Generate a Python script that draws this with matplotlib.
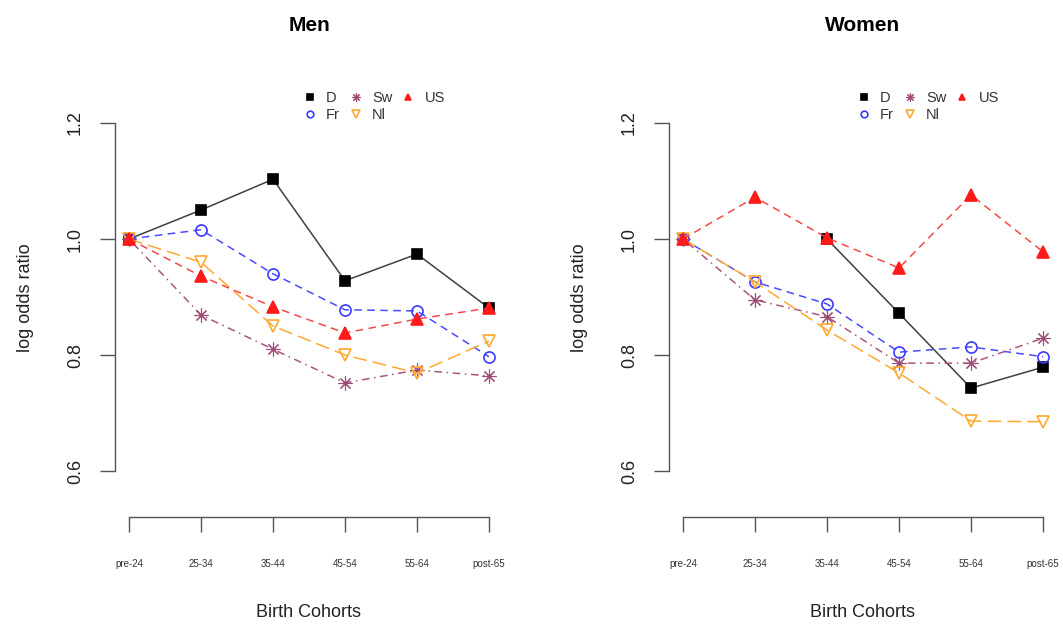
import numpy as np
import matplotlib.pyplot as plt
from matplotlib.lines import Line2D

plt.rcParams['font.family'] = ['Liberation Sans', 'DejaVu Sans']

# data
cohorts = ['pre-24', '25-34', '35-44', '45-54', '55-64', 'post-65']
countries = ['D', 'Fr', 'Sw', 'Nl', 'US']

men_D = [1.0, 1.050, 1.103, 0.928, 0.974, 0.881]
men_Fr = [1.0, 1.016, 0.940, 0.878, 0.876, 0.797]
men_Sw = [1.0, 0.869, 0.810, 0.752, 0.774, 0.764]
men_Nl = [1.0, 0.960, 0.850, 0.800, 0.769, 0.824]
men_US = [1.0, 0.936, 0.883, 0.838, 0.862, 0.881]

women_D = [np.nan, np.nan, 1.0, 0.872, 0.743, 0.779]
women_Fr = [1.0, 0.926, 0.888, 0.805, 0.814, 0.797]
women_Sw = [1.0, 0.895, 0.866, 0.786, 0.786, 0.829]
women_Nl = [1.0, 0.926, 0.843, 0.769, 0.686, 0.685]
women_US = [1.0, 1.072, 1.002, 0.950, 1.076, 0.978]

# style per country: line colour, marker colour, marker, filled, dashes
styles = {
    'D':  dict(lc='#404040', mc='black', m='s', fill=True, ls='-', ms=6.5, mew=1.2),
    'Fr': dict(lc='#4a4aff', mc='#3a3aff', m='o', fill=False, ls=(0, (5, 3.5)), ms=8, mew=1.2),
    'Sw': dict(lc='#a8557f', mc='#9e4a76', m=(8, 2, 0), fill=True, ls=(0, (1, 3, 5, 3)), ms=10, mew=0.8),
    'Nl': dict(lc='#ffa830', mc='#ffa830', m='v', fill=False, ls=(0, (9, 4)), ms=9, mew=1.2),
    'US': dict(lc='#f24848', mc='#ff1a1a', m='^', fill=True, ls=(0, (5, 3.5)), ms=8, mew=1.2),
}

x = np.arange(1, len(cohorts) + 1)

fig = plt.figure(figsize=(10.63, 6.28), dpi=100)
W, H = 1063, 628
ax_men = fig.add_axes([114.6 / W, (H - 517) / H, 388.8 / W, 439 / H])
ax_women = fig.add_axes([668.6 / W, (H - 517) / H, 388.8 / W, 439 / H])


def draw(ax, data, title):
    for c in countries:
        s = styles[c]
        ax.plot(x, data[c], color=s['lc'], linestyle=s['ls'], linewidth=1.1,
                marker=s['m'], markersize=s['ms'],
                markerfacecolor=s['mc'] if s['fill'] else 'none',
                markeredgecolor=s['mc'], markeredgewidth=s['mew'])
    ax.set_xlim(0.8, 6.2)
    ax.set_ylim(0.5207, 1.2776)
    ax.set_xticks(x)
    ax.set_xticklabels(cohorts, fontsize=7, color='#333333')
    ax.set_yticks([0.6, 0.8, 1.0, 1.2])
    ax.set_yticklabels(['0.6', '0.8', '1.0', '1.2'], fontsize=13, color='#222222',
                       rotation=90, va='center')
    ax.tick_params(axis='x', length=11, width=1, color='#555555', pad=19)
    ax.tick_params(axis='y', length=11, width=1, color='#555555', pad=11)
    for sp in ['top', 'right']:
        ax.spines[sp].set_visible(False)
    ax.spines['left'].set_bounds(0.6, 1.2)
    ax.spines['bottom'].set_bounds(1, 6)
    for sp in ['left', 'bottom']:
        ax.spines[sp].set_color('#555555')
        ax.spines[sp].set_linewidth(1)
    ax.set_xlabel('Birth Cohorts', fontsize=13, color='#222222')
    ax.xaxis.set_label_coords(0.5, -0.198)
    ax.xaxis.label.set_va('top')
    ax.set_ylabel('log odds ratio', fontsize=13, color='#222222')
    ax.yaxis.set_label_coords(-0.207, 0.5)
    ax.set_title(title, fontsize=15, fontweight='bold', pad=34)

    handles = []
    for c in countries:
        s = styles[c]
        handles.append(Line2D([], [], linestyle='none', marker=s['m'],
                              markersize=s['ms'] * 0.6,
                              markerfacecolor=s['mc'] if s['fill'] else 'none',
                              markeredgecolor=s['mc'], markeredgewidth=s['mew']))
    leg = ax.legend(handles, countries, ncol=3, loc='upper left',
                    bbox_to_anchor=(0.484, 0.971), frameon=False, fontsize=10.5,
                    handlelength=1.0, handletextpad=0.6, columnspacing=0.6,
                    labelspacing=0.25, borderpad=0, borderaxespad=0)
    for t in leg.get_texts():
        t.set_color('#333333')


draw(ax_men, {'D': men_D, 'Fr': men_Fr, 'Sw': men_Sw, 'Nl': men_Nl, 'US': men_US}, 'Men')
draw(ax_women, {'D': women_D, 'Fr': women_Fr, 'Sw': women_Sw, 'Nl': women_Nl, 'US': women_US}, 'Women')

fig.savefig('out.png', dpi=100)
